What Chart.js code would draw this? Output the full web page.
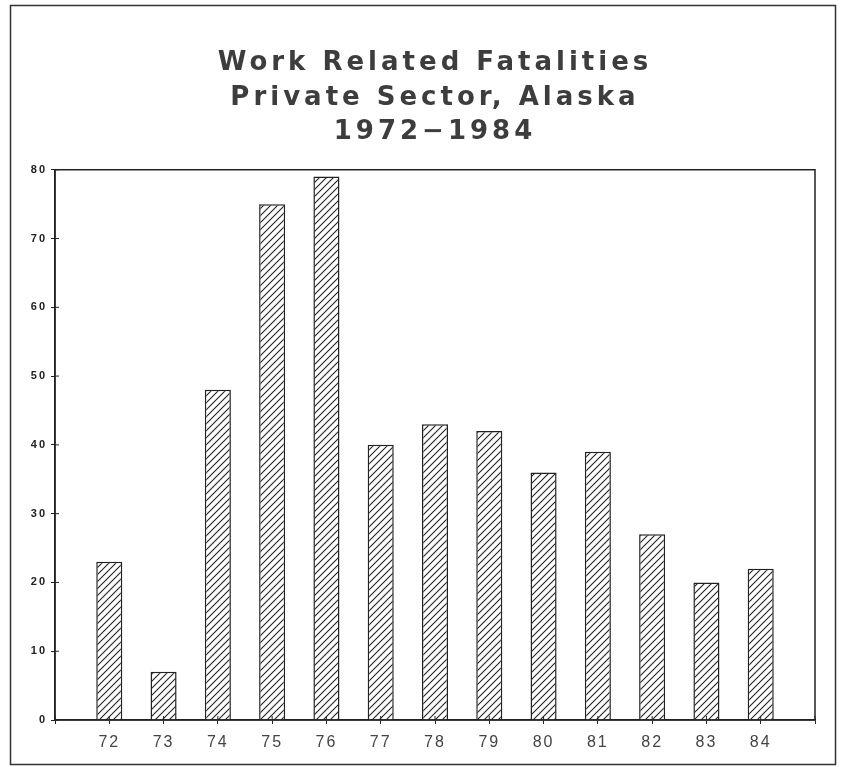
<!DOCTYPE html>
<html>
<head>
<meta charset="utf-8">
<script src="https://cdn.jsdelivr.net/npm/chart.js@4"></script>
<style>
  html, body { margin: 0; padding: 0; background: #fff; }
</style>
</head>
<body>
<canvas id="chart" width="849" height="767"></canvas>
<script>
// data
const years = ['72', '73', '74', '75', '76', '77', '78', '79', '80', '81', '82', '83', '84'];
const fatalities = [23, 7, 48, 75, 79, 40, 43, 42, 36, 39, 27, 20, 22];
const titleLines = ['Work Related Fatalities', 'Private Sector, Alaska', '1972\u22121984'];
const yMax = 80;
const yStep = 10;

const canvas = document.getElementById('chart');
const ctx = canvas.getContext('2d');

// diagonal hatch like the old plotter fill
function makeHatch() {
  const s = 7;
  const p = document.createElement('canvas');
  p.width = s; p.height = s;
  const g = p.getContext('2d');
  g.fillStyle = '#fff';
  g.fillRect(0, 0, s, s);
  g.strokeStyle = '#222';
  g.lineWidth = 1.1;
  g.beginPath();
  g.moveTo(0, s); g.lineTo(s, 0);
  g.moveTo(-1, 1); g.lineTo(1, -1);
  g.moveTo(s - 1, s + 1); g.lineTo(s + 1, s - 1);
  g.stroke();
  return ctx.createPattern(p, 'repeat');
}

// letter spacing: wide for the title, a bit less for tick labels
const spacing = {
  id: 'spacing',
  beforeDraw(chart) { chart.ctx.letterSpacing = '4px'; },
  beforeDatasetsDraw(chart) { chart.ctx.letterSpacing = '2px'; },
  afterDraw(chart) { chart.ctx.letterSpacing = '0px'; }
};

// plot box, page frame and the inner half of the tick marks
const frame = {
  id: 'frame',
  afterDraw(chart) {
    const c = chart.ctx;
    const a = chart.chartArea;
    c.save();
    c.strokeStyle = '#222';
    c.lineWidth = 1.5;
    c.strokeRect(a.left, a.top, a.right - a.left, a.bottom - a.top);

    c.lineWidth = 1;
    const ys = chart.scales.y;
    ys.ticks.forEach((t, i) => {
      const py = ys.getPixelForTick(i);
      c.beginPath(); c.moveTo(a.left, py); c.lineTo(a.left + 4, py); c.stroke();
    });
    const xs = chart.scales.x;
    xs.ticks.forEach((t, i) => {
      const px = xs.getPixelForTick(i);
      c.beginPath(); c.moveTo(px, a.bottom); c.lineTo(px, a.bottom - 4); c.stroke();
    });

    c.strokeStyle = '#333';
    c.lineWidth = 1.5;
    c.strokeRect(10.5, 5.5, 825, 759);
    c.restore();
  }
};

new Chart(ctx, {
  type: 'bar',
  data: {
    datasets: [{
      data: fatalities.map((v, i) => ({ x: i, y: v })),
      backgroundColor: makeHatch(),
      borderColor: '#222',
      borderWidth: 1.5,
      barPercentage: 0.48,
      categoryPercentage: 1
    }]
  },
  options: {
    responsive: false,
    animation: false,
    layout: { padding: { left: 12, right: 34, top: 0, bottom: 0 } },
    plugins: {
      legend: { display: false },
      tooltip: { enabled: false },
      title: {
        display: true,
        fullSize: false,
        text: titleLines,
        color: '#3d3d3d',
        font: { family: 'DejaVu Sans', size: 26, weight: 'bold', lineHeight: 1.33 },
        padding: { top: 46, bottom: 20 }
      }
    },
    scales: {
      x: {
        type: 'linear',
        min: -1,
        max: years.length,
        offset: false,
        afterFit(scale) { scale.height = 47; },
        grid: { drawOnChartArea: false, offset: false, tickLength: 4, color: '#222' },
        border: { color: '#222', width: 1.5 },
        ticks: {
          stepSize: 1,
          autoSkip: false,
          maxRotation: 0,
          padding: 9,
          z: 1,
          color: '#444',
          font: { family: 'Liberation Sans', size: 16 },
          callback: (v) => years[v] ?? ''
        }
      },
      y: {
        min: 0,
        max: yMax,
        afterFit(scale) { scale.width = 43; },
        grid: { drawOnChartArea: false, tickLength: 4, color: '#222' },
        border: { color: '#222', width: 1.5 },
        ticks: {
          stepSize: yStep,
          padding: 4,
          z: 1,
          color: '#222',
          font: { family: 'Liberation Sans', size: 11, weight: 'bold' }
        }
      }
    }
  },
  plugins: [spacing, frame]
});
</script>
</body>
</html>
